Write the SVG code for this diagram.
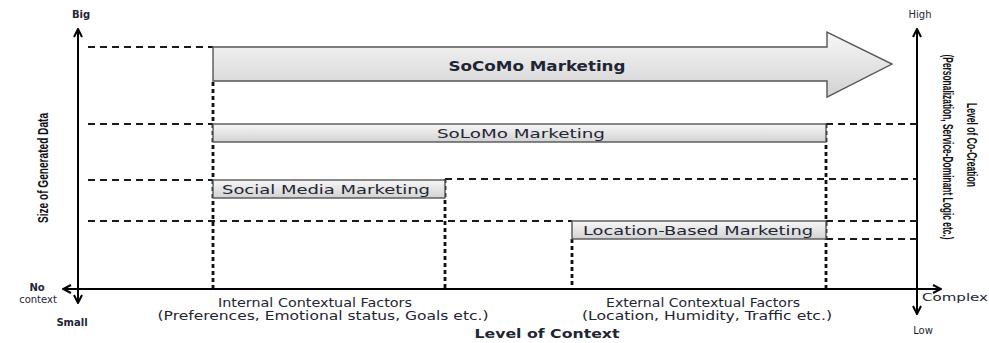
<svg xmlns="http://www.w3.org/2000/svg" width="989" height="343" viewBox="0 0 989 343">
<style>
.axis{stroke:#000;stroke-width:2;fill:none}
.dash{stroke:#1a1a1a;stroke-width:1.8;stroke-dasharray:7 5;fill:none}
.dot{stroke:#111;stroke-width:2.8;stroke-dasharray:4 3;fill:none}
.bar{fill:url(#g);stroke:#555;stroke-width:1.4}
.t{font-family:"DejaVu Sans",Verdana,sans-serif;fill:#1e2533}
.c{font-family:"Liberation Sans",Arial,sans-serif;font-weight:bold;fill:#111}
</style>
<defs>
<linearGradient id="g" x1="0" y1="0" x2="0" y2="1">
<stop offset="0" stop-color="#f7f7f7"/>
<stop offset="1" stop-color="#d2d2d2"/>
</linearGradient>
<marker id="ah" viewBox="0 0 10 10" refX="9" refY="5" markerWidth="5" markerHeight="5" orient="auto-start-reverse" markerUnits="strokeWidth">
<path d="M1,1 L9,5 L1,9" fill="none" stroke="#000" stroke-width="2"/>
</marker>
</defs>
<g id="connectors">
<line class="axis" x1="78" y1="303" x2="78" y2="29" marker-start="url(#ah)" marker-end="url(#ah)"/>
<line class="axis" x1="917" y1="314" x2="917" y2="29" marker-start="url(#ah)" marker-end="url(#ah)"/>
<line class="axis" x1="63" y1="289" x2="941" y2="289" stroke-width="1.6" marker-start="url(#ah)" marker-end="url(#ah)"/>
<line class="dash" x1="88" y1="47" x2="213" y2="47"/>
<line class="dash" x1="88" y1="124" x2="213" y2="124"/>
<line class="dash" x1="826" y1="124" x2="917" y2="124"/>
<line class="dash" x1="88" y1="180" x2="213" y2="180"/>
<line class="dash" x1="445" y1="179" x2="917" y2="179"/>
<line class="dash" x1="88" y1="221" x2="572" y2="221"/>
<line class="dash" x1="826" y1="221" x2="917" y2="221"/>
<line class="dash" x1="826" y1="239" x2="917" y2="239"/>
<line class="dot" x1="213" y1="82" x2="213" y2="288"/>
<line class="dot" x1="826" y1="124" x2="826" y2="288"/>
<line class="dot" x1="445" y1="179" x2="445" y2="288"/>
<line class="dot" x1="572" y1="239" x2="572" y2="288"/>
</g>
<g id="socomo">
<path class="bar" d="M213,47 H827 V32 L892,64 L827,97 V81 H213 Z"/>
<text class="t" x="537" y="71" font-size="14" font-weight="bold" text-anchor="middle" textLength="177" lengthAdjust="spacingAndGlyphs">SoCoMo Marketing</text>
</g>
<g id="solomo">
<rect class="bar" x="213" y="124" width="613" height="18"/>
<text class="t" x="521" y="138" font-size="13" text-anchor="middle" textLength="168" lengthAdjust="spacingAndGlyphs">SoLoMo Marketing</text>
</g>
<g id="social">
<rect class="bar" x="213" y="180" width="232" height="18"/>
<text class="t" x="222" y="194" font-size="13" textLength="208" lengthAdjust="spacingAndGlyphs">Social Media Marketing</text>
</g>
<g id="location">
<rect class="bar" x="572" y="221" width="254" height="18"/>
<text class="t" x="583" y="235" font-size="13" textLength="230" lengthAdjust="spacingAndGlyphs">Location-Based Marketing</text>
</g>
<g id="labels">
<text class="t" x="81" y="18" font-size="10" font-weight="bold" text-anchor="middle">Big</text>
<text class="t" x="920" y="18" font-size="10" text-anchor="middle">High</text>
<text class="t" x="72" y="326" font-size="10" font-weight="bold" text-anchor="middle">Small</text>
<text class="t" x="923" y="334" font-size="10" text-anchor="middle">Low</text>
<text class="t" x="37" y="291" font-size="10" font-weight="bold" text-anchor="middle">No</text>
<text class="t" x="38" y="303" font-size="10" text-anchor="middle">context</text>
<text class="t" x="922" y="301" font-size="11" textLength="66" lengthAdjust="spacingAndGlyphs">Complex</text>
<text class="t" x="315" y="307" font-size="12" text-anchor="middle" textLength="194" lengthAdjust="spacingAndGlyphs">Internal Contextual Factors</text>
<text class="t" x="323" y="320" font-size="12" text-anchor="middle" textLength="331" lengthAdjust="spacingAndGlyphs">(Preferences, Emotional status, Goals etc.)</text>
<text class="t" x="703" y="307" font-size="12" text-anchor="middle" textLength="194" lengthAdjust="spacingAndGlyphs">External Contextual Factors</text>
<text class="t" x="707" y="320" font-size="12" text-anchor="middle" textLength="250" lengthAdjust="spacingAndGlyphs">(Location, Humidity, Traffic etc.)</text>
<text class="t" x="547" y="338" font-size="13" font-weight="bold" text-anchor="middle" textLength="145" lengthAdjust="spacingAndGlyphs">Level of Context</text>
<text class="c" transform="translate(48,168) rotate(-90)" font-size="14" text-anchor="middle" textLength="110" lengthAdjust="spacingAndGlyphs">Size of Generated  Data</text>
<text class="c" transform="translate(967,145) rotate(90)" font-size="14" text-anchor="middle" textLength="84" lengthAdjust="spacingAndGlyphs">Level of Co-Creation</text>
<text class="c" transform="translate(943,147) rotate(90)" font-size="14" text-anchor="middle" textLength="185" lengthAdjust="spacingAndGlyphs">(Personalization, Service-Dominant Logic etc.)</text>
</g>
</svg>
